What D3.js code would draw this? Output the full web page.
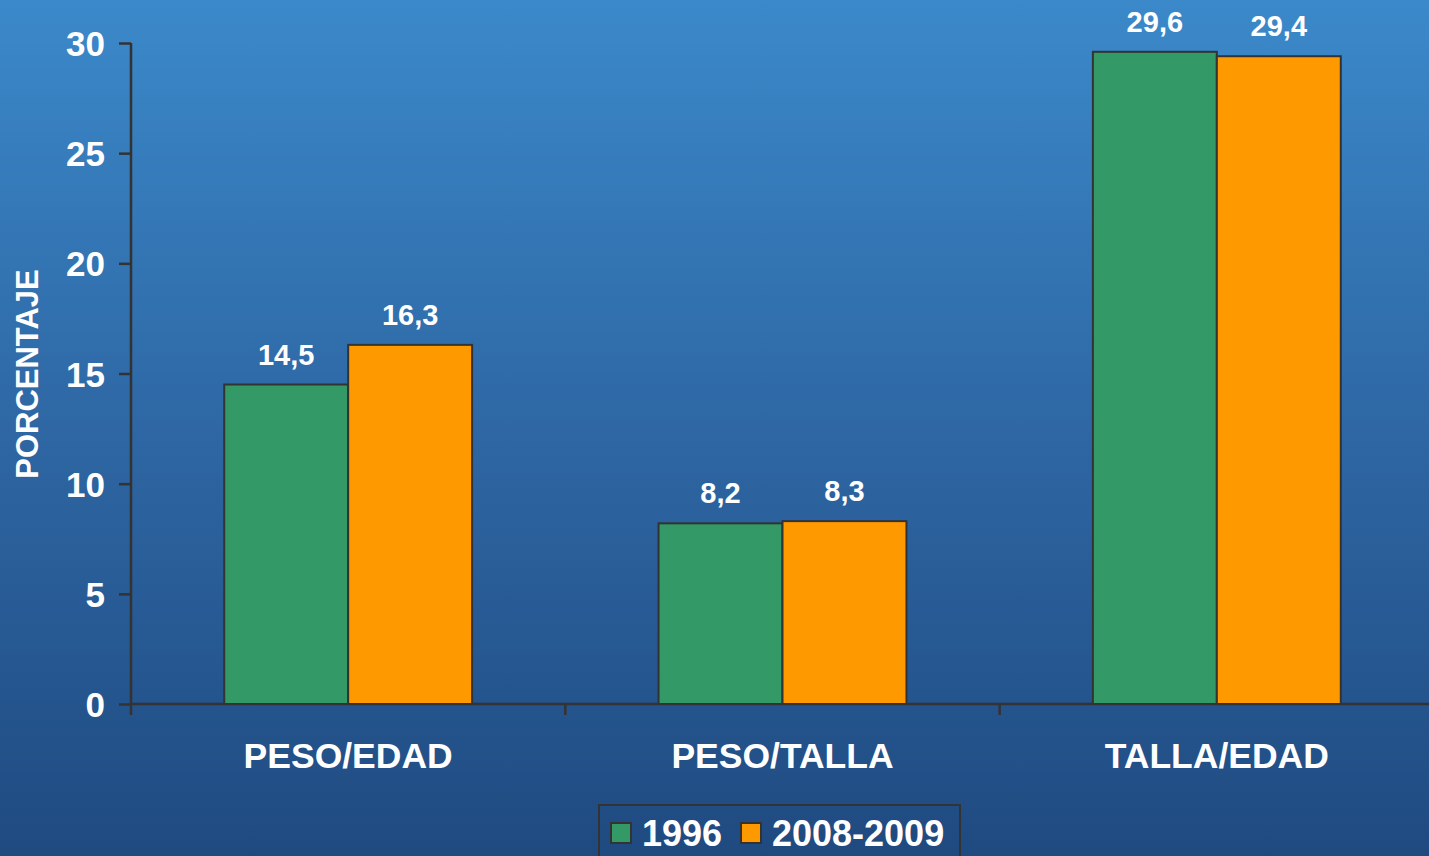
<!DOCTYPE html>
<html>
<head>
<meta charset="utf-8">
<script src="https://cdn.jsdelivr.net/npm/d3@7"></script>
<style>
    html, body { margin: 0; padding: 0; overflow: hidden; }
    body { width: 1429px; height: 856px; }
    text { font-family: "Liberation Sans", Arial, sans-serif; font-weight: bold; fill: #fff; }
    .axis path, .axis line { stroke: #333; stroke-width: 2.5; }
</style>
</head>
<body>
<div id="graph"></div>
<script>
/*
    Data
*/
var categories = [ "PESO/EDAD", "PESO/TALLA", "TALLA/EDAD" ]
var series = [ "1996", "2008-2009" ]
var values1996 = [ 14.5, 8.2, 29.6 ]
var values2008 = [ 16.3, 8.3, 29.4 ]
var yTicks = [ 0, 5, 10, 15, 20, 25, 30 ]

var colors = { "1996": "#339966", "2008-2009": "#ff9900" }

var data = categories.map(function (c, i) {
    return { category: c, values: [
        { key: series[0], value: values1996[i] },
        { key: series[1], value: values2008[i] }
    ]}
})

var W = 1429, H = 856
var svg = d3.select("#graph").append("svg")
    .attr("width", W)
    .attr("height", H)

// background gradient
var grad = svg.append("defs").append("linearGradient")
    .attr("id", "bg").attr("x1", 0).attr("y1", 0).attr("x2", 0).attr("y2", 1)
grad.append("stop").attr("offset", "0%").attr("stop-color", "#3b89ca")
grad.append("stop").attr("offset", "50%").attr("stop-color", "#2e67a4")
grad.append("stop").attr("offset", "100%").attr("stop-color", "#1f4a80")
svg.append("rect").attr("width", W).attr("height", H).attr("fill", "url(#bg)")

// scales
var x0 = d3.scaleBand()
    .domain(categories)
    .range([131, 1434])
    .padding(0)

var x1 = d3.scaleBand()
    .domain(series)
    .range([0, x0.bandwidth()])
    .paddingInner(0)
    .paddingOuter(0.752)

var y = d3.scaleLinear()
    .domain([0, 30])
    .range([704, 43])

// y axis
var yAxis = svg.append("g")
    .attr("class", "axis")
    .attr("transform", "translate(131,0)")
    .call(d3.axisLeft(y).tickValues(yTicks).tickSize(12).tickPadding(14))
yAxis.select(".domain").attr("d", "M0," + y(30) + "V" + y(0))
yAxis.selectAll("text")
    .style("font-size", "35px")
    .attr("dy", "0.36em")

// x axis
var xAxis = svg.append("g")
    .attr("class", "axis")
    .attr("transform", "translate(0,704)")
    .call(d3.axisBottom(x0).tickSize(0).tickFormat(""))
xAxis.select(".domain").attr("d", "M131,0H1434")
xAxis.selectAll(".tick").remove()
xAxis.selectAll(".sep")
    .data([131].concat(categories.map(function (c) { return x0(c) + x0.bandwidth() })))
    .enter().append("line")
    .attr("x1", function (d) { return d }).attr("x2", function (d) { return d })
    .attr("y1", 0).attr("y2", 11)

svg.selectAll(".cat-label")
    .data(categories)
    .enter().append("text")
    .attr("class", "cat-label")
    .attr("x", function (d) { return x0(d) + x0.bandwidth() / 2 })
    .attr("y", 768)
    .attr("text-anchor", "middle")
    .style("font-size", "35.5px")
    .text(function (d) { return d })

// y label
svg.append("text")
    .attr("transform", "translate(38,374) rotate(-90)")
    .attr("text-anchor", "middle")
    .style("font-size", "31px")
    .text("PORCENTAJE")

// bars
var groups = svg.selectAll(".group")
    .data(data)
    .enter().append("g")
    .attr("class", "group")
    .attr("transform", function (d) { return "translate(" + x0(d.category) + ",0)" })

groups.selectAll("rect")
    .data(function (d) { return d.values })
    .enter().append("rect")
    .attr("x", function (d) { return x1(d.key) })
    .attr("y", function (d) { return y(d.value) })
    .attr("width", x1.bandwidth())
    .attr("height", function (d) { return y(0) - y(d.value) })
    .attr("fill", function (d) { return colors[d.key] })
    .attr("stroke", "#333")
    .attr("stroke-width", 2)

groups.selectAll(".val")
    .data(function (d) { return d.values })
    .enter().append("text")
    .attr("class", "val")
    .attr("x", function (d) { return x1(d.key) + x1.bandwidth() / 2 })
    .attr("y", function (d) { return y(d.value) - 20 })
    .attr("text-anchor", "middle")
    .style("font-size", "29px")
    .text(function (d) { return String(d.value).replace(".", ",") })

// legend
var legend = svg.append("g").attr("transform", "translate(599,805)")
legend.append("rect")
    .attr("width", 361).attr("height", 70)
    .attr("fill", "none").attr("stroke", "#333").attr("stroke-width", 2)

var legendX = [ 12, 142 ]
var item = legend.selectAll(".item")
    .data(series)
    .enter().append("g")
    .attr("transform", function (d, i) { return "translate(" + legendX[i] + ",0)" })
item.append("rect")
    .attr("x", 0).attr("y", 18)
    .attr("width", 20).attr("height", 20)
    .attr("fill", function (d) { return colors[d] })
    .attr("stroke", "#333").attr("stroke-width", 2)
item.append("text")
    .attr("x", 31).attr("y", 41)
    .style("font-size", "36px")
    .text(function (d) { return d })
</script>
</body>
</html>
